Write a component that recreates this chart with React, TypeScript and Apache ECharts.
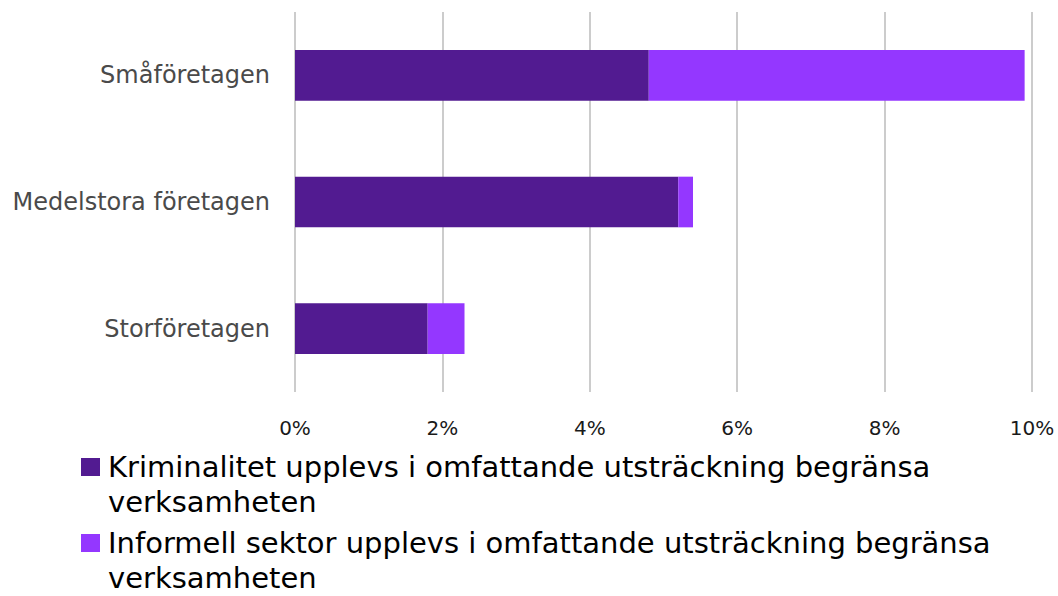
import React, { useEffect, useRef } from "react";
import * as echarts from "echarts";

const categories = ["Småföretagen", "Medelstora företagen", "Storföretagen"];
const seriesNames = [
  "Kriminalitet upplevs i omfattande utsträckning begränsa verksamheten",
  "Informell sektor upplevs i omfattande utsträckning begränsa verksamheten",
];
const kriminalitet = [4.8, 5.2, 1.8];
const informell = [5.1, 0.2, 0.5];
const xTicks = [0, 2, 4, 6, 8, 10];
const legendLines = [
  ["Kriminalitet upplevs i omfattande utsträckning begränsa", "verksamheten"],
  ["Informell sektor upplevs i omfattande utsträckning begränsa", "verksamheten"],
];
const colors = ["#521b91", "#9437ff"];

const FONT = "'DejaVu Sans', sans-serif";

export default function App() {
  const ref = useRef<HTMLDivElement>(null);
  useEffect(() => {
    if (!ref.current) return;
    const chart = echarts.init(ref.current, undefined, { renderer: "svg" });
    const legendGraphics: any[] = [];
    const itemTops = [458, 534];
    const lineOffsets = [9, 44];
    legendLines.forEach((lines, i) => {
      const top = itemTops[i];
      legendGraphics.push({
        type: "rect",
        x: 81,
        y: top,
        shape: { width: 19, height: 18 },
        style: { fill: colors[i] },
      });
      lines.forEach((ln, j) => {
        legendGraphics.push({
          type: "text",
          x: 108,
          y: top + lineOffsets[j],
          style: {
            text: ln,
            font: `29px ${FONT}`,
            fill: "#000",
            verticalAlign: "middle",
            align: "left",
          },
        });
      });
    });
    chart.setOption({
      animation: false,
      textStyle: { fontFamily: FONT },
      grid: { left: 295, right: 26, top: 12, bottom: 204, containLabel: false },
      xAxis: {
        type: "value",
        min: 0,
        max: 10,
        interval: 2,
        axisLine: { show: false },
        axisTick: { show: false },
        splitLine: { show: true, lineStyle: { color: "#cccccc", width: 2 } },
        axisLabel: {
          formatter: (v: number) => (xTicks.includes(v) ? `${v}%` : ""),
          fontSize: 20,
          color: "#1a1a1a",
          margin: 26,
          fontFamily: FONT,
        },
      },
      yAxis: {
        type: "category",
        data: categories,
        inverse: true,
        axisLine: { show: false },
        axisTick: { show: false },
        axisLabel: { fontSize: 24, color: "#4a4a4a", margin: 25, fontFamily: FONT },
      },
      series: [
        {
          name: seriesNames[0],
          type: "bar",
          stack: "total",
          data: kriminalitet,
          barWidth: "40%",
          itemStyle: { color: colors[0] },
        },
        {
          name: seriesNames[1],
          type: "bar",
          stack: "total",
          data: informell,
          barWidth: "40%",
          itemStyle: { color: colors[1] },
        },
      ],
      graphic: legendGraphics,
    });
    return () => chart.dispose();
  }, []);
  return (
    <div
      ref={ref}
      style={{ position: "fixed", left: 0, top: 0, width: 1058, height: 596, background: "#fff" }}
    />
  );
}
